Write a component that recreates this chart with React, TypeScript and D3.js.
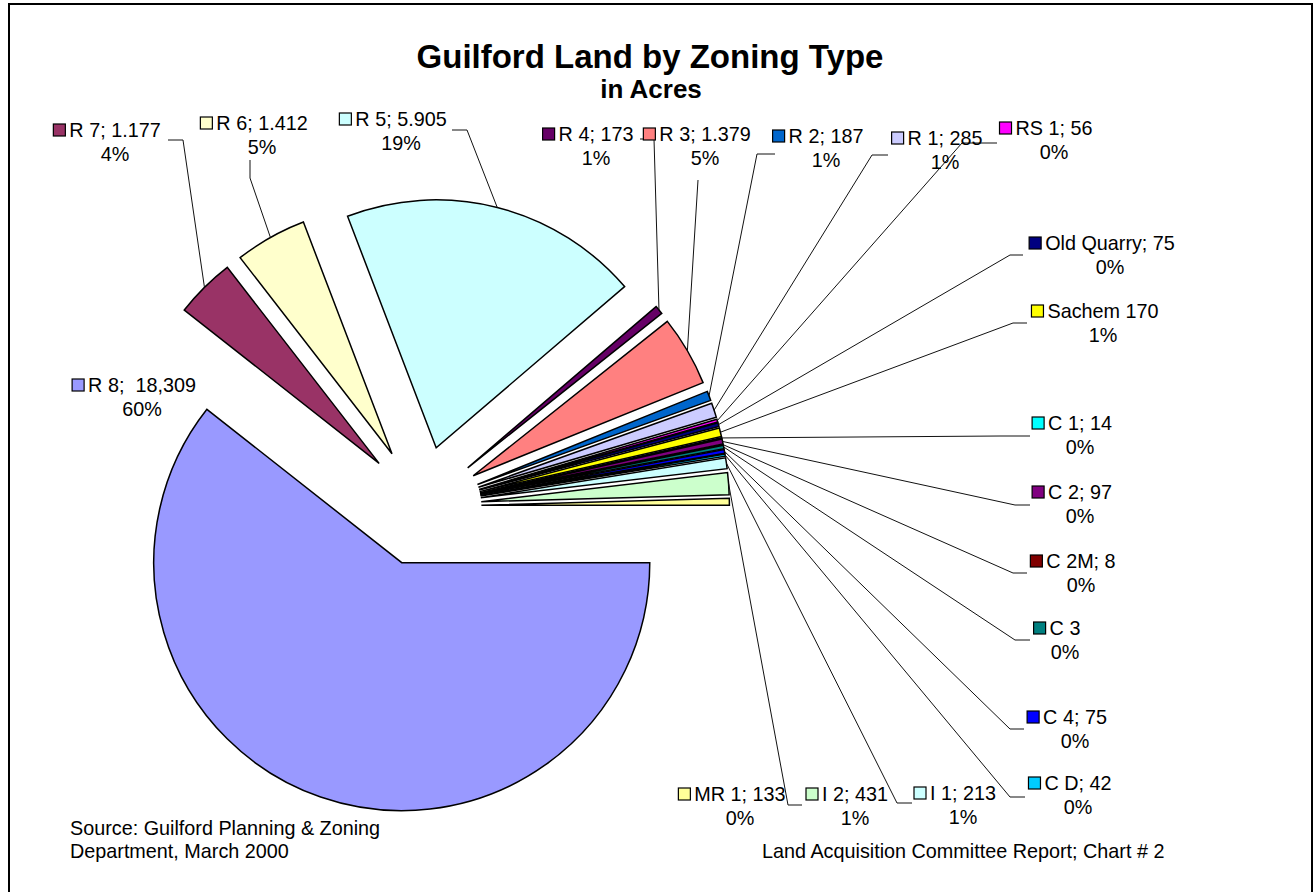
import React, { useEffect, useRef } from "react";
import * as d3 from "d3";

// ---- data ----
const zones = ["R 8", "R 7", "R 6", "R 5", "R 4", "R 3", "R 2", "R 1", "RS 1", "Old Quarry", "Sachem", "C 1", "C 2", "C 2M", "C 3", "C 4", "C D", "I 1", "I 2", "MR 1"];
const acres = [18309, 1177, 1412, 5905, 173, 1379, 187, 285, 56, 75, 170, 14, 97, 8, 65, 75, 42, 213, 431, 133];
const valueLabels = ["R 8;  18,309", "R 7; 1.177", "R 6; 1.412", "R 5; 5.905", "R 4; 173", "R 3; 1.379", "R 2; 187", "R 1; 285", "RS 1; 56", "Old Quarry; 75", "Sachem 170", "C 1; 14", "C 2; 97", "C 2M; 8", "C 3", "C 4; 75", "C D; 42", "I 1; 213", "I 2; 431", "MR 1; 133"];
const percentLabels = ["60%", "4%", "5%", "19%", "1%", "5%", "1%", "1%", "0%", "0%", "1%", "0%", "0%", "0%", "0%", "0%", "0%", "1%", "1%", "0%"];
const sliceColors = ["#9999FF", "#993366", "#FFFFCC", "#CCFFFF", "#660066", "#FF8080", "#0066CC", "#CCCCFF", "#FF00FF", "#000080", "#FFFF00", "#00FFFF", "#800080", "#800000", "#008080", "#0000FF", "#00CCFF", "#CCFFFF", "#CCFFCC", "#FFFF99"];

// ---- label layout (text centre x, first-line baseline, leader elbow, leader end) ----
type LabelPos = { cx: number; y: number; elbow?: [number, number]; attach?: [number, number] };
const labelLayout: LabelPos[] = [
  { cx: 142, y: 392 },
  { cx: 115, y: 137, elbow: [183, 140], attach: [168, 140] },
  { cx: 262, y: 130, elbow: [250, 178], attach: [250, 160] },
  { cx: 401, y: 126, elbow: [467, 130], attach: [452, 130] },
  { cx: 596, y: 141, elbow: [654, 139], attach: [640, 139] },
  { cx: 705, y: 141, elbow: [698, 180], attach: [698, 180] },
  { cx: 826, y: 143, elbow: [757, 154], attach: [775, 154] },
  { cx: 945, y: 145, elbow: [872, 155], attach: [888, 155] },
  { cx: 1054, y: 135, elbow: [962, 143], attach: [997, 143] },
  { cx: 1110, y: 250, elbow: [1010, 255], attach: [1023, 255] },
  { cx: 1103, y: 318, elbow: [1013, 323], attach: [1027, 323] },
  { cx: 1080, y: 430, elbow: [1000, 436], attach: [1030, 436] },
  { cx: 1080, y: 499, elbow: [1015, 505], attach: [1030, 505] },
  { cx: 1081, y: 568, elbow: [1013, 573], attach: [1027, 573] },
  { cx: 1065, y: 635, elbow: [1015, 640], attach: [1030, 640] },
  { cx: 1075, y: 724, elbow: [1010, 729], attach: [1024, 729] },
  { cx: 1078, y: 790, elbow: [1010, 797], attach: [1025, 797] },
  { cx: 963, y: 800, elbow: [897, 803], attach: [912, 803] },
  { cx: 855, y: 801, elbow: [788, 805], attach: [802, 805] },
  { cx: 740, y: 801 },
];

const W = 1315;
const H = 892;
const CX = 421.4;
const CY = 506;
const R = 248;
const EXPLODE = 60;
const FONT = "'Liberation Sans', Arial, sans-serif";
const FS = 19.8;

export default function App() {
  const ref = useRef<SVGSVGElement | null>(null);

  useEffect(() => {
    const svg = d3.select(ref.current);
    svg.selectAll("*").remove();

    svg.append("rect").attr("width", W).attr("height", H).attr("fill", "#fff");
    // chart border
    svg.append("path")
      .attr("d", `M9,${H + 5} L9,4 L1312,4 L1312,${H + 5}`)
      .attr("fill", "none").attr("stroke", "#000").attr("stroke-width", 2);

    const data = zones.map((z, i) => ({ z, v: acres[i], i }));
    const pie = d3.pie<any>().value((d: any) => d.v).sort(null)
      .startAngle(Math.PI / 2).endAngle(Math.PI / 2 + 2 * Math.PI);
    const arcs = pie(data);
    const arcGen = d3.arc<any>().innerRadius(0).outerRadius(R);

    const g = svg.append("g").attr("transform", `translate(${CX},${CY})`);
    arcs.forEach((a: any) => {
      const mid = (a.startAngle + a.endAngle) / 2;
      const dx = EXPLODE * Math.sin(mid);
      const dy = -EXPLODE * Math.cos(mid);
      g.append("path")
        .attr("d", arcGen(a) as string)
        .attr("transform", `translate(${dx},${dy})`)
        .attr("fill", sliceColors[a.data.i])
        .attr("stroke", "#000")
        .attr("stroke-width", 1.5)
        .attr("stroke-linejoin", "miter");
    });

    // leader lines
    arcs.forEach((a: any) => {
      const lp = labelLayout[a.data.i];
      if (!lp.elbow || !lp.attach) return;
      const mid = (a.startAngle + a.endAngle) / 2;
      const sx = CX + (EXPLODE + R) * Math.sin(mid);
      const sy = CY - (EXPLODE + R) * Math.cos(mid);
      const line = d3.line();
      svg.append("path")
        .attr("d", line([[sx, sy], lp.elbow, lp.attach]) as string)
        .attr("fill", "none").attr("stroke", "#111").attr("stroke-width", 1);
    });

    // data labels
    labelLayout.forEach((lp, i) => {
      const t = svg.append("text")
        .attr("x", lp.cx).attr("y", lp.y)
        .attr("text-anchor", "middle")
        .attr("font-family", FONT).attr("font-size", FS)
        .attr("fill", "#000")
        .style("white-space", "pre")
        .text(valueLabels[i]);
      const w = (t.node() as SVGTextElement).getComputedTextLength();
      svg.append("rect")
        .attr("x", lp.cx - w / 2 - 16).attr("y", lp.y - 13)
        .attr("width", 12).attr("height", 12)
        .attr("fill", sliceColors[i]).attr("stroke", "#000").attr("stroke-width", 1.2);
      svg.append("text")
        .attr("x", lp.cx).attr("y", lp.y + 24)
        .attr("text-anchor", "middle")
        .attr("font-family", FONT).attr("font-size", FS)
        .attr("fill", "#000")
        .text(percentLabels[i]);
    });

    // titles
    svg.append("text").attr("x", 650).attr("y", 68).attr("text-anchor", "middle")
      .attr("font-family", FONT).attr("font-weight", "bold").attr("font-size", 33)
      .text("Guilford Land by Zoning Type");
    svg.append("text").attr("x", 651).attr("y", 98).attr("text-anchor", "middle")
      .attr("font-family", FONT).attr("font-weight", "bold").attr("font-size", 26)
      .text("in Acres");

    // footers
    const foot = (x: number, y: number, s: string) =>
      svg.append("text").attr("x", x).attr("y", y)
        .attr("font-family", FONT).attr("font-size", FS).text(s);
    foot(70, 835, "Source: Guilford Planning & Zoning");
    foot(70, 858, "Department, March 2000");
    foot(762, 858, "Land Acquisition Committee Report; Chart # 2");
  }, []);

  return (
    <svg
      ref={ref}
      width={W}
      height={H}
      style={{ position: "absolute", left: 0, top: 0, display: "block" }}
    />
  );
}
